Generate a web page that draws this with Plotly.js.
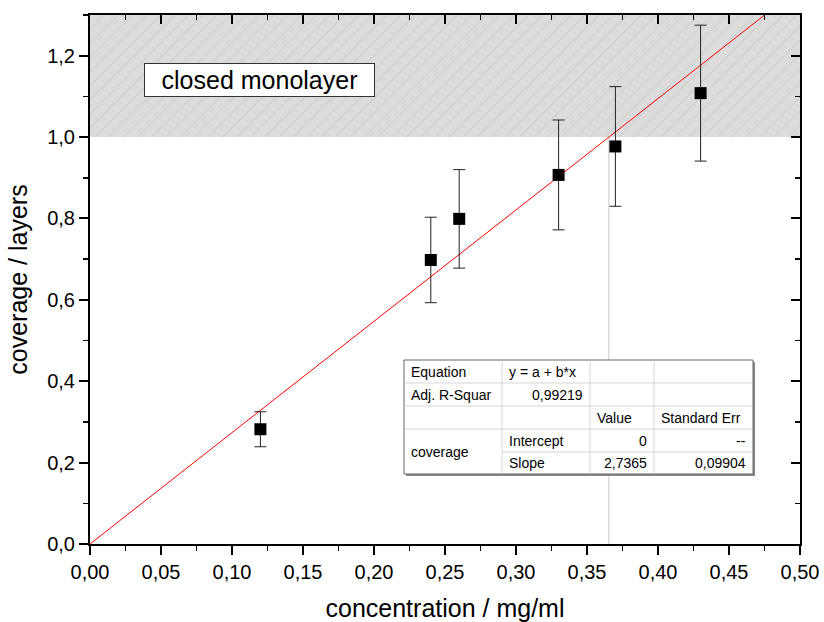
<!DOCTYPE html>
<html>
<head>
<meta charset="utf-8">
<script src="https://cdn.plot.ly/plotly-3.0.1.min.js"></script>
<style>html,body{margin:0;padding:0;background:#fff;}#chart{width:824px;height:622px;}</style>
</head>
<body>
<div id="chart"></div>
<script>
// ---- data ----
var concentration = [0.12, 0.24, 0.26, 0.33, 0.37, 0.43];
var coverage      = [0.282, 0.698, 0.799, 0.907, 0.977, 1.108];
var coverageErr   = [0.043, 0.105, 0.121, 0.135, 0.147, 0.167];
var fitIntercept = 0;
var fitSlope = 2.7365;
var monolayerLevel = 1.0;
var xTickLabelsFormat = '.2f';
var yTickLabelsFormat = '.1f';
var bandLabel = 'closed monolayer';
var tableCells = [
  ['Equation', 'y = a + b*x', '', ''],
  ['Adj. R-Squar', '0,99219', '', ''],
  ['', '', 'Value', 'Standard Err'],
  ['coverage', 'Intercept', '0', '--'],
  ['', 'Slope', '2,7365', '0,09904']
];

// ---- geometry helpers (plot area in px) ----
var L = 90, R = 800, T = 15, B = 544;
function px(xp) { return (xp - L) / (R - L); }
function py(yp) { return (B - yp) / (B - T); }

var xMax = 0.5, yMax = 1.3;
var fitX = [0, xMax];
var fitY = fitX.map(function (v) { return fitIntercept + fitSlope * v; });
var crossX = (monolayerLevel - fitIntercept) / fitSlope;

var traces = [
  { // hatched band
    x: [0, xMax, xMax, 0, 0], y: [monolayerLevel, monolayerLevel, yMax, yMax, monolayerLevel],
    type: 'scatter', mode: 'lines', fill: 'toself', line: { width: 0, color: 'rgba(0,0,0,0)' },
    fillcolor: '#dcdcdc',
    fillpattern: { shape: '/', bgcolor: '#dcdcdc', fgcolor: '#c4c4c4', size: 10, solidity: 0.08 },
    hoverinfo: 'skip', showlegend: false
  },
  { // vertical drop line
    x: [crossX, crossX], y: [0, monolayerLevel], type: 'scatter', mode: 'lines',
    line: { color: '#c8c8c8', width: 1 }, showlegend: false, hoverinfo: 'skip'
  },
  { // fit line
    x: fitX, y: fitY, type: 'scatter', mode: 'lines',
    line: { color: '#ff0000', width: 1 }, showlegend: false
  },
  { // data
    x: concentration, y: coverage, type: 'scatter', mode: 'markers',
    marker: { symbol: 'square', size: 12, color: '#000' },
    error_y: { type: 'data', array: coverageErr, visible: true, color: '#222', thickness: 1, width: 6 },
    showlegend: false
  }
];

// table shapes & annotations
var colX = [404, 502, 590, 654, 753];
var rowY = [360, 383, 406, 429, 452, 474];
var shapes = [];
var annotations = [];
// shadow
shapes.push({ type: 'rect', xref: 'paper', yref: 'paper', layer: 'above',
  x0: px(colX[0] + 2), x1: px(colX[4] + 2), y0: py(rowY[5] + 2), y1: py(rowY[0] + 2),
  fillcolor: '#8a8a8a', line: { width: 0 } });
shapes.push({ type: 'rect', xref: 'paper', yref: 'paper', layer: 'above',
  x0: px(colX[0]), x1: px(colX[4]), y0: py(rowY[5]), y1: py(rowY[0]),
  fillcolor: '#ffffff', line: { width: 1, color: '#666' } });
// inner horizontal lines
for (var r = 1; r < 5; r++) {
  var xs = (r === 4) ? colX[1] : colX[0];
  shapes.push({ type: 'line', xref: 'paper', yref: 'paper', layer: 'above',
    x0: px(xs + 0.5), x1: px(colX[4] - 0.5), y0: py(rowY[r]), y1: py(rowY[r]),
    line: { width: 1, color: '#d6d6d6' } });
}
for (var c = 1; c < 4; c++) {
  shapes.push({ type: 'line', xref: 'paper', yref: 'paper', layer: 'above',
    x0: px(colX[c]), x1: px(colX[c]), y0: py(rowY[5] - 0.5), y1: py(rowY[0] + 0.5),
    line: { width: 1, color: '#d6d6d6' } });
}
// cell text
var alignRight = { '0,99219': 1, '0': 1, '--': 1, '2,7365': 1, '0,09904': 1 };
for (var r2 = 0; r2 < tableCells.length; r2++) {
  for (var c2 = 0; c2 < 4; c2++) {
    var t = tableCells[r2][c2];
    if (!t) continue;
    var cy = (rowY[r2] + rowY[r2 + 1]) / 2;
    if (r2 === 3 && c2 === 0) cy = (rowY[3] + rowY[5]) / 2;
    var right = alignRight.hasOwnProperty(t);
    annotations.push({
      xref: 'paper', yref: 'paper', showarrow: false, text: t,
      x: right ? px(colX[c2 + 1] - 5) : px(colX[c2] + 5),
      xanchor: right ? 'right' : 'left',
      y: py(cy), yanchor: 'middle',
      font: { family: 'Arial, Liberation Sans, sans-serif', size: 14, color: '#000' }
    });
  }
}
// band label
annotations.push({
  xref: 'paper', yref: 'paper', showarrow: false, text: bandLabel,
  x: px(259.5), y: py(80), xanchor: 'center', yanchor: 'middle',
  width: 225, height: 28, borderpad: 2,
  bgcolor: '#ffffff', bordercolor: '#333', borderwidth: 1,
  font: { family: 'Arial, Liberation Sans, sans-serif', size: 25, color: '#000' }
});

var axFont = { family: 'Arial, Liberation Sans, sans-serif', size: 20, color: '#000' };
var layout = {
  width: 824, height: 622,
  margin: { l: L, r: 824 - R, t: T, b: 622 - B },
  paper_bgcolor: '#fff', plot_bgcolor: '#fff',
  separators: ', ',
  showlegend: false,
  xaxis: {
    range: [0, xMax], dtick: 0.05, tick0: 0, tickformat: xTickLabelsFormat,
    showgrid: false, zeroline: false, showline: true, linecolor: '#000', linewidth: 2,
    ticks: 'outside', ticklen: 9, tickwidth: 2, tickcolor: '#000',
    minor: { dtick: 0.025, ticks: 'outside', ticklen: 5, tickwidth: 1.5, tickcolor: '#000', showgrid: false },
    tickfont: axFont,
    title: { text: 'concentration / mg/ml', font: { family: 'Arial, Liberation Sans, sans-serif', size: 25, color: '#000' }, standoff: 18 },
    automargin: false
  },
  yaxis: {
    range: [0, yMax], dtick: 0.2, tick0: 0, tickformat: yTickLabelsFormat,
    showgrid: false, zeroline: false, showline: true, linecolor: '#000', linewidth: 2,
    ticks: 'outside', ticklen: 9, tickwidth: 2, tickcolor: '#000',
    minor: { dtick: 0.1, ticks: 'outside', ticklen: 5, tickwidth: 1.5, tickcolor: '#000', showgrid: false },
    tickfont: axFont,
    title: { text: 'coverage / layers', font: { family: 'Arial, Liberation Sans, sans-serif', size: 25, color: '#000' }, standoff: 12 },
    automargin: false
  },
  xaxis2: {
    overlaying: 'x', side: 'top', anchor: 'y', range: [0, xMax], dtick: 0.05, tick0: 0,
    showticklabels: false, showgrid: false, zeroline: false, showline: true, linecolor: '#000', linewidth: 2,
    ticks: 'inside', ticklen: 9, tickwidth: 2, tickcolor: '#000',
    minor: { dtick: 0.025, ticks: 'inside', ticklen: 5, tickwidth: 1.5, tickcolor: '#000', showgrid: false },
    automargin: false
  },
  yaxis2: {
    overlaying: 'y', side: 'right', anchor: 'x', range: [0, yMax], dtick: 0.2, tick0: 0,
    showticklabels: false, showgrid: false, zeroline: false, showline: true, linecolor: '#000', linewidth: 2,
    ticks: 'inside', ticklen: 9, tickwidth: 2, tickcolor: '#000',
    minor: { dtick: 0.1, ticks: 'inside', ticklen: 5, tickwidth: 1.5, tickcolor: '#000', showgrid: false },
    automargin: false
  },
  shapes: shapes,
  annotations: annotations
};

// dummy trace so overlay axes render
traces.push({ x: [0], y: [0], xaxis: 'x2', yaxis: 'y2', type: 'scatter', mode: 'markers',
  marker: { opacity: 0 }, hoverinfo: 'skip', showlegend: false });

Plotly.newPlot('chart', traces, layout, { staticPlot: true, displayModeBar: false });
</script>
</body>
</html>
